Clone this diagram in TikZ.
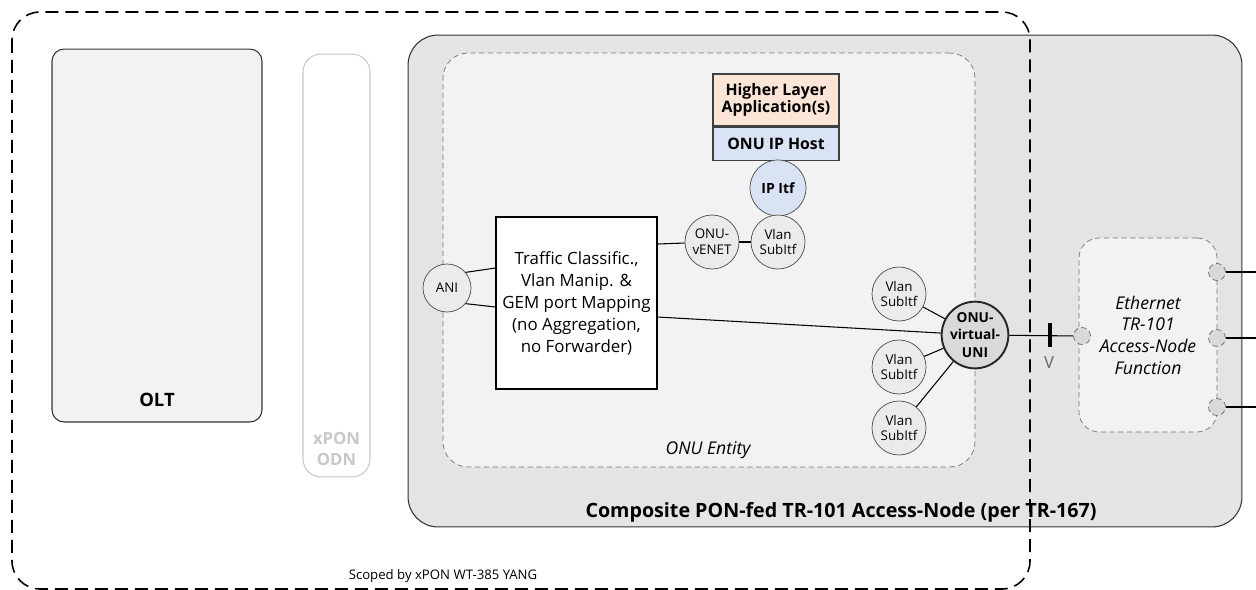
\documentclass[tikz,border=0pt]{standalone}
\usepackage{fontspec}
\setmainfont{Open Sans}
\usepackage{xcolor}
\usepackage{tikz}
\usetikzlibrary{shapes,arrows,positioning}

\definecolor{compfill}{HTML}{E4E4E4}
\definecolor{entfill}{HTML}{F2F2F2}
\definecolor{hlapeach}{HTML}{FBE5D6}
\definecolor{hostblue}{HTML}{DAE3F3}
\definecolor{vlanfill}{HTML}{EBEBEB}
\definecolor{unifill}{HTML}{D9D9D9}
\definecolor{odngray}{HTML}{C8C8C8}

\begin{document}
\begin{tikzpicture}[
    x=0.02cm, y=-0.02cm,
    shelf/.style={rectangle, draw=black!80, semithick, rounded corners=0.24cm, fill=entfill},
    inner/.style={rectangle, draw=black!55, densely dashed, thin, fill=entfill},
    stack/.style={rectangle, draw=black!75, semithick, minimum width=2.52cm, font=\fontsize{9}{10.5}\selectfont\bfseries, align=center},
    itf/.style={circle, draw=black!70, fill=vlanfill, minimum size=1.08cm, inner sep=0pt, align=center, font=\fontsize{7.6}{9}\selectfont},
    port/.style={circle, draw=black!60, densely dashed, thin, fill=unifill, minimum size=0.34cm, inner sep=0pt},
    link/.style={draw, semithick},
    caption/.style={font=\fontsize{10.5}{12}\selectfont\bfseries}
]
    \useasboundingbox (0,0) rectangle (1256,589);

    % OLT and ODN
    \node[shelf, minimum width=4.2cm, minimum height=7.46cm] (olt) at (157,235.5) {};
    \node[caption] (oltlabel) at ([yshift=0.46cm]olt.south) {OLT};
    \node[shelf, draw=odngray, fill=white, rounded corners=0.36cm, minimum width=1.34cm, minimum height=8.46cm] (odn) at (336.5,265.5) {};
    \node[caption, text=odngray, align=center, font=\fontsize{9.5}{11.5}\selectfont\bfseries] (odnlabel) at ([yshift=0.57cm]odn.south) {xPON\\ODN};

    % Composite Access-Node
    \node[shelf, fill=compfill, rounded corners=0.6cm, minimum width=16.68cm, minimum height=9.84cm] (comp) at (825,281) {};
    \node[font=\fontsize{11.2}{13}\selectfont\bfseries] (complabel) at (841,512) {Composite PON-fed TR-101 Access-Node (per TR-167)};

    % ONU Entity
    \node[inner, rounded corners=0.5cm, minimum width=10.64cm, minimum height=8.28cm] (ent) at (709,260) {};
    \node[font=\fontsize{10}{12}\selectfont\itshape] (entlabel) at (708,450) {ONU Entity};

    % IP host stack
    \node[stack, fill=hlapeach, minimum height=1.04cm] (hla) at (776,100) {Higher Layer\\[-1pt]Application(s)};
    \node[stack, fill=hostblue, minimum height=0.66cm, below=0cm of hla] (host) {ONU IP Host};
    \node[itf, fill=hostblue, minimum size=1.12cm, font=\fontsize{8}{9}\selectfont\bfseries] (ipitf) at (778,188) {IP Itf};
    \node[itf] (vsip) at (778,242) {Vlan\\SubItf};
    \node[itf] (venet) at (712,242) {ONU-\\vENET};

    % Classifier and ANI
    \node[rectangle, draw, semithick, fill=white, minimum width=3.22cm, minimum height=3.44cm, align=center, font=\fontsize{9.6}{12.5}\selectfont] (tc) at (576.5,303) {Traffic Classific.,\\Vlan Manip. \&\\GEM port Mapping\\(no Aggregation,\\no Forwarder)};
    \node[itf, minimum size=0.96cm] (ani) at (447,288) {ANI};

    % virtual UNI and its sub-interfaces
    \node[itf, fill=unifill, line width=1.1pt, draw=black!85, minimum size=1.23cm, font=\fontsize{7.8}{9.8}\selectfont\bfseries] (uni) at (975,335) {ONU-\\virtual-\\UNI};
    \node[itf] (vs1) at (899,294) {Vlan\\SubItf};
    \node[itf] (vs2) at (899,367) {Vlan\\SubItf};
    \node[itf] (vs3) at (899,428) {Vlan\\SubItf};

    % Ethernet Access-Node function
    \node[inner, rounded corners=0.4cm, minimum width=2.76cm, minimum height=3.88cm, align=center, font=\fontsize{10}{12.3}\selectfont\itshape] (eth) at (1148,335) {Ethernet\\TR-101\\Access-Node\\Function};
    \node[port] (vport) at (1082,336) {};
    \node[port] (p1) at (1217,272) {};
    \node[port] (p2) at (1217,338) {};
    \node[port] (p3) at (1217,407) {};
    \coordinate (o1) at (1256,272);
    \coordinate (o2) at (1256,338);
    \coordinate (o3) at (1256,407);
    \coordinate (vmark) at (1050,335);
    \node[text=black!60, font=\fontsize{9.5}{11}\selectfont] (vlabel) at (1049,363) {V};

    % Links
    \draw[link] (ani.40) -- ([yshift=0.7cm]tc.west);
    \draw[link] (ani.-40) -- ([yshift=-0.08cm]tc.west);
    \draw[link] ([yshift=1.18cm]tc.east) -- (venet);
    \draw[link] ([yshift=-0.28cm]tc.east) -- (uni);
    \draw[link] (venet) -- (vsip);
    \draw[link] (vs1) -- (uni);
    \draw[link] (vs2) -- (uni);
    \draw[link] (vs3) -- (uni);
    \draw[link] (uni) -- (vport);
    \draw[line width=1.8pt] ([yshift=0.24cm]vmark) -- ([yshift=-0.24cm]vmark);
    \draw[link] (p1) -- (o1);
    \draw[link] (p2) -- (o2);
    \draw[link] (p3) -- (o3);

    % Scope of the YANG model
    \draw[line width=0.9pt, dash pattern=on 0.26cm off 0.14cm, rounded corners=0.56cm] (12,12) rectangle (1030,589);
    \node[font=\fontsize{7.5}{9}\selectfont] (scoped) at (443,576) {Scoped by xPON WT-385 YANG};
\end{tikzpicture}
\end{document}
